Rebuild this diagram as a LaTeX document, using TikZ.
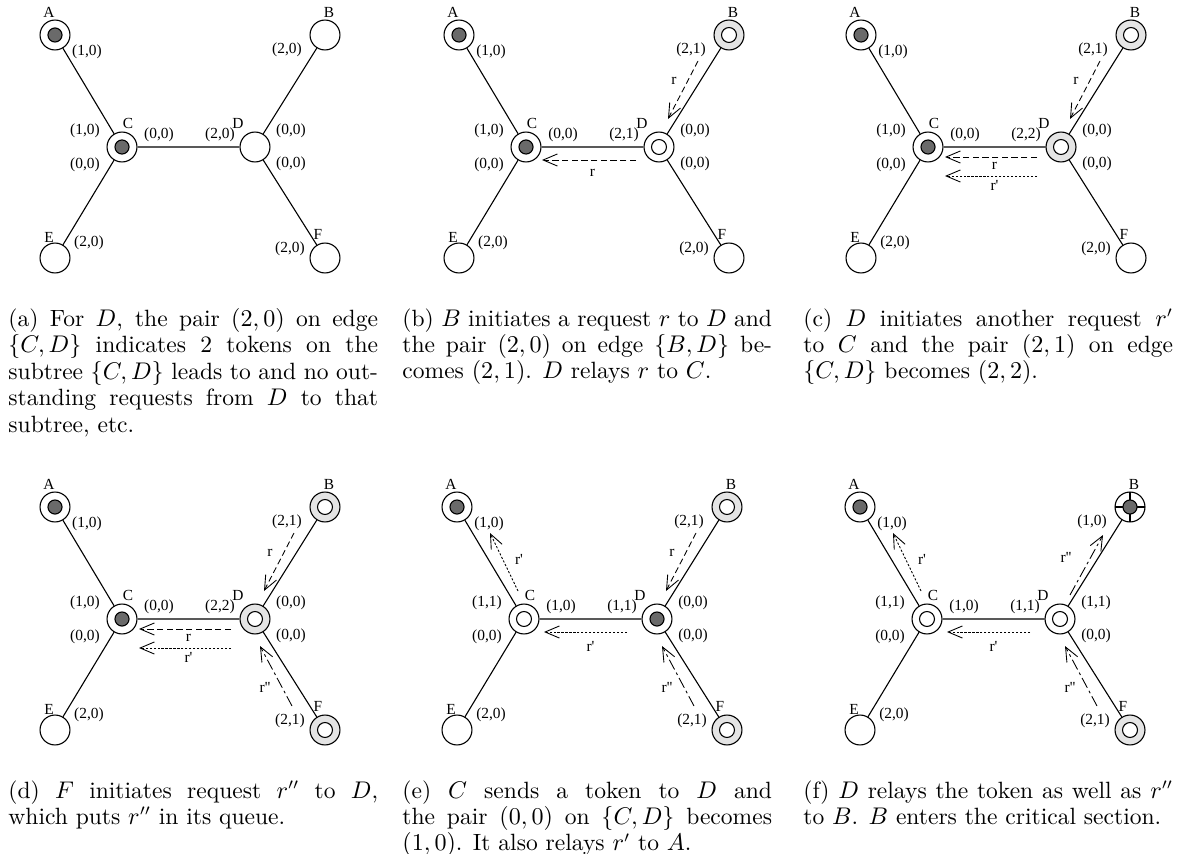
\documentclass[tikz,border=0pt]{standalone}
\usepackage{amsmath,amssymb}
\usepackage{fontspec}
\newfontfamily\lblfont{Liberation Serif}[Ligatures=TeXOff]
\usepackage{tikz}
\usetikzlibrary{calc,positioning,arrows.meta}
\definecolor{tokgray}{HTML}{6A6A6A}
\definecolor{reqgray}{HTML}{E4E4E4}
\newcommand\pr[1]{\expandafter\prpair#1}
\def\prpair#1#2{(#1,#2)}

\begin{document}
\begin{tikzpicture}[x=0.4545pt,y=-0.4545pt,
    nd/.style={circle,draw,fill=white,minimum size=13.6pt,inner sep=0pt,line width=.5pt},
    pln/.style={nd},
    tok/.style={nd,path picture={\draw[fill=tokgray] (path picture bounding box.center) circle (3.2pt);}},
    rly/.style={nd,path picture={\draw (path picture bounding box.center) circle (3.4pt);}},
    req/.style={nd,fill=reqgray,path picture={\draw[fill=white] (path picture bounding box.center) circle (3.4pt);}},
    cs/.style={nd,path picture={\draw (path picture bounding box.north) -- (path picture bounding box.south)
        (path picture bounding box.west) -- (path picture bounding box.east);
        \draw[fill=tokgray] (path picture bounding box.center) circle (3.2pt);}},
    lbl/.style={font=\lblfont\fontsize{7}{8}\selectfont,inner sep=0pt},
    rq/.style={-{Straight Barb[length=6.5pt,width=5.5pt]},line width=.4pt,dash pattern=on 2.8pt off 1.6pt},
    rqp/.style={rq,dash pattern=on 1pt off .8pt},
    rqpp/.style={rq,dash pattern=on 5pt off 1.6pt on 1.2pt off 1.6pt},
    captext/.style={anchor=north west,inner sep=0pt,text width=168pt,align=justify,font=\fontsize{10.7}{12}\selectfont}]
  \useasboundingbox (0,0) rectangle (1196,854);

  % the six trees
  \foreach \p/\sx/\sy/\sB/\sC/\sD/\sF/\qB/\qCl/\qCr/\qDl/\qDr/\qF in {
      a/55/35/pln/tok/pln/pln/20/10/00/20/00/20,
      b/459/35/req/tok/rly/pln/21/10/00/21/00/20,
      c/861/35/req/tok/req/pln/21/10/00/22/00/20,
      d/55/507/req/tok/req/req/21/10/00/22/00/21,
      e/457/507/req/rly/tok/req/21/11/10/11/00/21,
      f/860/507/cs/rly/rly/req/10/11/10/11/11/21}
  {
    \begin{scope}[shift={(\sx,\sy)}]
      \node[tok] (\p A) at (0,0) {};
      \node[\sB] (\p B) at (270,0) {};
      \node[\sC] (\p C) at (67,112) {};
      \node[\sD] (\p D) at (200,112) {};
      \node[pln] (\p E) at (0,223) {};
      \node[\sF] (\p F) at (270,223) {};
      \draw[line width=.5pt] (\p A) -- (\p C) (\p E) -- (\p C) (\p C) -- (\p D) (\p D) -- (\p B) (\p D) -- (\p F);
      \node[lbl] at (-6,-23) {A};
      \node[lbl] at (274,-23) {B};
      \node[lbl] at (73,88) {C};
      \node[lbl] at (183,88) {D};
      \node[lbl] at (-6,202) {E};
      \node[lbl] at (263,199) {F};
      \node[lbl] at (32,17) {(1,0)};
      \node[lbl] at (232,15) {\pr\qB};
      \node[lbl] at (30,96) {\pr\qCl};
      \node[lbl] at (30,130) {(0,0)};
      \node[lbl] at (104,100) {\pr\qCr};
      \node[lbl] at (165,100) {\pr\qDl};
      \node[lbl] at (236,96) {\pr\qDr};
      \node[lbl] at (236,129) {(0,0)};
      \node[lbl] at (34,208) {(2,0)};
      \node[lbl] at (235,214) {\pr\qF};
    \end{scope}
  }

  % request r from B
  \foreach \p in {b,c,d,e}{
    \draw[rq] ($(\p B)+(-31,26)$) -- ($(\p D)+(9,-28)$);
    \node[lbl] at ($(\p B)+(-55,46)$) {r};
  }
  \draw[rq] ($(bD)+(-23,13)$) -- ($(bC)+(16,13)$);
  \node[lbl] at ($(bC)!.5!(bD)+(0,26)$) {r};
  \foreach \p in {c,d}{
    \draw[rq] ($(\p D)+(-24,10)$) -- ($(\p C)+(17,10)$);
    \node[lbl] at ($(\p C)!.5!(\p D)+(0,19)$) {r};
    \draw[rqp] ($(\p D)+(-24,29)$) -- ($(\p C)+(17,29)$);
    \node[lbl] at ($(\p C)!.5!(\p D)+(0,38)$) {r'};
  }
  % r' relayed on
  \foreach \p in {e,f}{
    \draw[rqp] ($(\p D)+(-30,13)$) -- ($(\p C)+(20,13)$);
    \node[lbl] at ($(\p C)!.5!(\p D)+(0,27)$) {r'};
    \draw[rqp] ($(\p C)+(-6,-28)$) -- ($(\p A)+(33,26)$);
    \node[lbl] at ($(\p C)+(-5,-60)$) {r'};
  }
  % request r'' from F
  \foreach \p in {d,e,f}{
    \draw[rqpp] ($(\p F)+(-33,-24)$) -- ($(\p D)+(5,27)$);
    \node[lbl] at ($(\p D)+(10,68)$) {r''};
  }
  \draw[rqpp] ($(fD)+(10,-24)$) -- ($(fB)+(-27,28)$);
  \node[lbl] at ($(fD)+(6,-62)$) {r''};

  % captions
  \node[captext] (capa) at (8,308) {(a) For $D$, the pair $(2,0)$ on edge $\{C,D\}$ indicates 2 tokens on the subtree $\{C,D\}$ leads to and no outstanding requests from $D$ to that subtree, etc.};
  \node[captext] (capb) at (402,308) {(b) $B$ initiates a request $r$ to $D$ and the pair $(2,0)$ on edge $\{B,D\}$ becomes $(2,1)$. $D$ relays $r$ to $C$.};
  \node[captext] (capc) at (803,308) {(c) $D$ initiates another request $r'$\linebreak to $C$ and the pair $(2,1)$ on edge\linebreak $\{C,D\}$ becomes $(2,2)$.};
  \node[captext] (capd) at (8,780) {(d) $F$ initiates request $r''$ to $D$, which puts $r''$ in its queue.};
  \node[captext] (cape) at (402,780) {(e) $C$ sends a token to $D$ and\linebreak the pair $(0,0)$ on $\{C,D\}$ becomes\linebreak $(1,0)$. It also relays $r'$ to $A$.};
  \node[captext] (capf) at (803,780) {(f) $D$ relays the token as well as $r''$ to $B$. $B$ enters the critical section.};
\end{tikzpicture}
\end{document}
